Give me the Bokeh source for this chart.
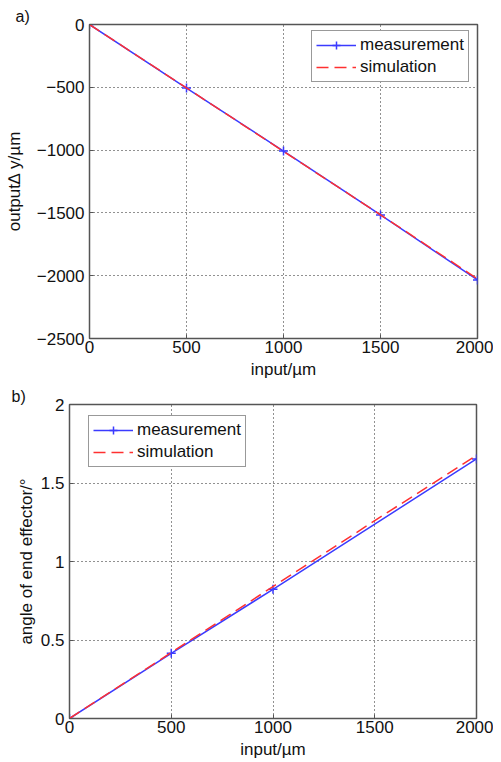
from bokeh.plotting import figure
from bokeh.layouts import column, row
from bokeh.models import Range1d, FixedTicker, Legend
from bokeh.embed import file_html
from bokeh.resources import INLINE

# data
x_in = [0, 500, 1000, 1500, 2000]
meas_dy = [0, -506, -1008, -1516, -2034]
sim_dy = [0, -505, -1010, -1515, -2025]

x_ang_meas = [0, 500, 1000, 2000]
meas_ang = [0, 0.415, 0.823, 1.653]
sim_ang = [0, 0.42, 0.84, 1.26, 1.676]

xticks = [0, 500, 1000, 1500, 2000]
yticks_a = [-2500, -2000, -1500, -1000, -500, 0]
yticks_b = [0, 0.5, 1, 1.5, 2]

FONT = "Liberation Sans"
FS = "17px"
BLUE = "#3b3bff"
RED = "#ff3030"


def style(p, xticks, yticks, panel_label, label_offset):
    p.xaxis.ticker = FixedTicker(ticks=xticks)
    p.yaxis.ticker = FixedTicker(ticks=yticks)
    for ax in p.axis:
        ax.major_label_text_font = FONT
        ax.major_label_text_font_size = FS
        ax.major_label_text_color = "#111111"
        ax.axis_label_text_font = FONT
        ax.axis_label_text_font_size = FS
        ax.axis_label_text_font_style = "normal"
        ax.axis_label_text_color = "#111111"
        ax.axis_line_color = "#555555"
        ax.major_tick_line_color = "#555555"
        ax.major_tick_in = 4
        ax.major_tick_out = 0
        ax.minor_tick_line_color = None
    p.xaxis.axis_label_standoff = 4
    p.xaxis.major_label_standoff = 2
    p.yaxis.major_label_standoff = 5
    p.grid.grid_line_color = "#222222"
    p.grid.grid_line_dash = "1 3"
    p.grid.grid_line_width = 1
    p.outline_line_color = "#555555"
    p.outline_line_width = 1.5
    p.title.text = panel_label
    p.title.align = "left"
    p.title.offset = label_offset
    p.title.standoff = 0
    p.title.text_font = FONT
    p.title.text_font_size = "16px"
    p.title.text_font_style = "normal"
    p.title.text_color = "#111111"


def make_legend(p, items, loc):
    leg = Legend(items=items, location=loc)
    leg.label_text_font = FONT
    leg.label_text_font_size = FS
    leg.label_text_color = "#111111"
    leg.glyph_width = 40
    leg.glyph_height = 20
    leg.label_height = 20
    leg.label_standoff = 4
    leg.spacing = 2
    leg.padding = 4
    leg.margin = 0
    leg.border_line_color = "#333333"
    leg.border_line_width = 1.5
    leg.background_fill_color = "white"
    leg.background_fill_alpha = 1
    p.add_layout(leg, "center")


# ---- plot a
pa = figure(width=493, height=385, output_backend="svg", toolbar_location=None,
            x_range=Range1d(0, 2000), y_range=Range1d(-2500, 0),
            min_border_left=89, min_border_right=16, min_border_top=24, min_border_bottom=47)
pa.xaxis.axis_label = "input/\u00b5m"
pa.yaxis.axis_label = "output\u2206 y/\u00b5m"
pa.yaxis.axis_label_standoff = 10
style(pa, xticks, yticks_a, "a)", -74)
la = pa.line(x_in, meas_dy, line_color=BLUE, line_width=1.5)
ma = pa.scatter(x_in, meas_dy, marker="cross", size=9, line_color=BLUE, line_width=1.5)
sa = pa.line(x_in, sim_dy, line_color=RED, line_width=1.5, line_dash="12 6")
make_legend(pa, [("measurement", [la, ma]), ("simulation", [sa])], (222, 256))

# ---- plot b
pb = figure(width=493, height=377, output_backend="svg", toolbar_location=None,
            x_range=Range1d(0, 2000), y_range=Range1d(0, 2),
            min_border_left=69, min_border_right=17, min_border_top=18, min_border_bottom=44)
pb.xaxis.axis_label = "input/\u00b5m"
pb.yaxis.axis_label = "angle of end effector/\u00b0"
pb.yaxis.axis_label_standoff = 2
style(pb, xticks, yticks_b, "b)", -58)
lb = pb.line(x_ang_meas, meas_ang, line_color=BLUE, line_width=1.5)
mb = pb.scatter(x_ang_meas, meas_ang, marker="cross", size=9, line_color=BLUE, line_width=1.5)
sb = pb.line(x_in, sim_ang, line_color=RED, line_width=1.5, line_dash="12 6")
make_legend(pb, [("measurement", [lb, mb]), ("simulation", [sb])], (19, 251))

layout = column(row(pa), row(pb), spacing=0)
open("out.html", "w").write(file_html(layout, INLINE))
